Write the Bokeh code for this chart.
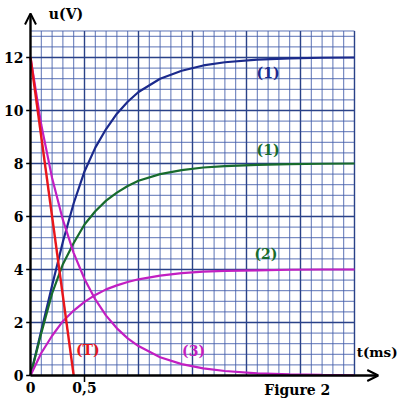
import numpy as np
from bokeh.plotting import figure
from bokeh.models import ColumnDataSource, Range1d, Arrow, OpenHead
from bokeh.core.properties import value
from bokeh.embed import file_html
from bokeh.resources import INLINE

# valeurs (t en ms, u en V)
t_ms = [0, 0.1, 0.2, 0.3, 0.4, 0.5, 0.6, 0.7, 0.8, 0.9, 1.0, 1.2, 1.4, 1.6, 1.8, 2.1, 2.4, 2.7, 3.0]
u_blue = [0, 1.7, 3.4, 5.05, 6.5, 7.7, 8.6, 9.3, 9.88, 10.33, 10.7, 11.2, 11.5, 11.7, 11.82, 11.92, 11.97, 11.99, 12.0]
u_green = [0, 1.6, 3.1, 4.2, 5.0, 5.7, 6.2, 6.6, 6.9, 7.15, 7.35, 7.6, 7.75, 7.85, 7.9, 7.95, 7.98, 7.99, 8.0]
u_mag2 = [0, 0.85, 1.5, 2.05, 2.45, 2.78, 3.04, 3.25, 3.4, 3.53, 3.63, 3.77, 3.86, 3.92, 3.95, 3.97, 3.99, 4.0, 4.0]
u_mag3 = [12, 9.45, 7.45, 5.87, 4.62, 3.64, 2.87, 2.26, 1.78, 1.4, 1.11, 0.69, 0.43, 0.27, 0.17, 0.08, 0.04, 0.02, 0.01]

# tangente (T)
t_tangent = [0, 0.4]
u_tangent = [12, 0]

y_ticks = [0, 2, 4, 6, 8, 10, 12]
y_tick_labels = ["0", "2", "4", "6", "8", "10", "12"]
x_ticks = [0, 0.5]
x_tick_labels = ["0", "0,5"]

src = ColumnDataSource(data=dict(t=t_ms, blue=u_blue, green=u_green, mag2=u_mag2, mag3=u_mag3))

FONT = value("DejaVu Serif")
BLUE = "#1b2a8c"
GREEN = "#176b2c"
MAGENTA = "#c21fc2"
RED = "#e8161b"
GRID = "#3f5aa8"

p = figure(width=400, height=400, output_backend="svg", toolbar_location=None,
           x_range=Range1d(-0.27778, 3.42593), y_range=Range1d(-0.9434, 14.1509),
           x_axis_type=None, y_axis_type=None, min_border=0)
p.outline_line_color = None
p.background_fill_color = "white"

# quadrillage
gx = np.round(np.arange(0, 3.001, 0.1), 2)
gy = list(np.round(np.arange(0, 12.9, 0.4), 2)) + [13.0]
p.segment(x0=gx, y0=0, x1=gx, y1=13.0, line_color=GRID, line_width=1, line_alpha=0.85)
p.segment(x0=0, y0=gy, x1=3.0, y1=gy, line_color=GRID, line_width=1, line_alpha=0.85)
mx = [0.5, 1.0, 1.5, 2.0, 2.5, 3.0]
my = [2, 4, 6, 8, 10, 12]
p.segment(x0=mx, y0=0, x1=mx, y1=13.0, line_color="#2a4288", line_width=1.4)
p.segment(x0=0, y0=my, x1=3.0, y1=my, line_color="#2a4288", line_width=1.4)

# courbes
p.line('t', 'blue', source=src, line_color=BLUE, line_width=2.2)
p.line('t', 'green', source=src, line_color=GREEN, line_width=2.2)
p.line('t', 'mag2', source=src, line_color=MAGENTA, line_width=2.2)
p.line('t', 'mag3', source=src, line_color=MAGENTA, line_width=2.2)
p.line(t_tangent, u_tangent, line_color=RED, line_width=2.4)

# axes avec flèches
p.add_layout(Arrow(end=OpenHead(size=11, line_width=2, line_color="black"),
                   x_start=0, y_start=0, x_end=0, y_end=13.66, line_width=2.4, line_color="black"))
p.add_layout(Arrow(end=OpenHead(size=11, line_width=2, line_color="black"),
                   x_start=0, y_start=0, x_end=3.22, y_end=0, line_width=2.4, line_color="black"))

# graduations
p.segment(x0=0, y0=y_ticks, x1=-0.04, y1=y_ticks, line_color="black", line_width=1.5)
p.segment(x0=[0.5], y0=0, x1=[0.5], y1=-0.25, line_color="black", line_width=1.5)

p.text(x=0, y=y_ticks, text=y_tick_labels, x_offset=-7, text_align="right", text_baseline="middle",
       text_font=FONT, text_font_style="bold", text_font_size="14px", text_color="black")
p.text(x=x_ticks, y=0, text=x_tick_labels, y_offset=7, text_align="center", text_baseline="top",
       text_font=FONT, text_font_style="bold", text_font_size="14px", text_color="black")

# étiquettes
def label(x, y, s, color, align="center", size="14px"):
    p.text(x=[x], y=[y], text=[s], text_align=align, text_baseline="middle",
           text_font=FONT, text_font_style="bold", text_font_size=size, text_color=color)

label(2.2, 11.43, "(1)", BLUE)
label(2.2, 8.5, "(1)", GREEN)
label(2.18, 4.6, "(2)", GREEN)
label(1.51, 0.94, "(3)", MAGENTA)
label(0.53, 0.98, "(T)", RED)
label(0.17, 13.65, "u(V)", "black", align="left")
label(3.02, 0.87, "t(ms)", "black", align="left", size="13.5px")
p.text(x=[2.47], y=[0], text=["Figure 2"], y_offset=7, text_align="center", text_baseline="top",
       text_font=FONT, text_font_style="bold", text_font_size="14px", text_color="black")

open("out.html", "w").write(file_html(p, INLINE))
